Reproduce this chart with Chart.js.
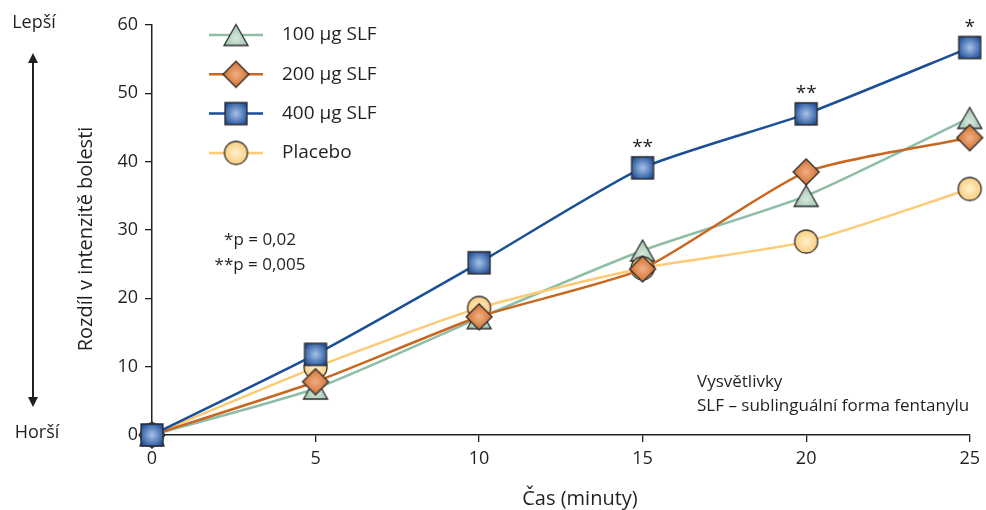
<!DOCTYPE html>
<html>
<head>
<meta charset="utf-8">
<script src="https://cdn.jsdelivr.net/npm/chart.js@4"></script>
<style>
  html, body { margin: 0; padding: 0; background: #fff; }
  #wrap { width: 986px; height: 510px; position: relative; }
</style>
</head>
<body>
<div id="wrap"><canvas id="chart" width="986" height="510"></canvas></div>
<script>
const minutes = ['0', '5', '10', '15', '20', '25'];
const slf100 = [0, 6.8, 17.1, 27.0, 35.0, 46.4];
const slf200 = [0, 7.8, 17.3, 24.3, 38.5, 43.5];
const slf400 = [0, 11.8, 25.2, 39.1, 47.0, 56.7];
const placebo = [0, 9.9, 18.6, 24.4, 28.3, 36.0];
const yTicks = [0, 10, 20, 30, 40, 50, 60];
const stars = ['', '', '', '**', '**', '*'];

const FONT = '"Open Sans", "Noto Sans", sans-serif';
const TXT = '#231f20';

// marker images with a soft radial shine
function makeMarker(shape, w, h, inner, outer) {
    const c = document.createElement('canvas');
    c.width = w + 4; c.height = h + 4;
    const ctx = c.getContext('2d');
    const cx = c.width / 2, cy = c.height / 2;
    ctx.beginPath();
    if (shape === 'square') {
        ctx.rect(2, 2, w, h);
    } else if (shape === 'diamond') {
        ctx.moveTo(cx, 2); ctx.lineTo(2 + w, cy); ctx.lineTo(cx, 2 + h); ctx.lineTo(2, cy); ctx.closePath();
    } else if (shape === 'triangle') {
        ctx.moveTo(cx, 2); ctx.lineTo(2 + w, 2 + h); ctx.lineTo(2, 2 + h); ctx.closePath();
    } else {
        ctx.arc(cx, cy, w / 2, 0, Math.PI * 2);
    }
    const gy = shape === 'triangle' ? cy + h * 0.15 : cy;
    const g = ctx.createRadialGradient(cx, gy, 0, cx, gy, w * 0.6);
    g.addColorStop(0, inner);
    g.addColorStop(1, outer);
    ctx.fillStyle = g;
    ctx.fill();
    ctx.lineWidth = 1.3;
    ctx.strokeStyle = '#2b2b2b';
    ctx.stroke();
    return c;
}

const mTri = makeMarker('triangle', 24, 21, '#d6e8dc', '#98bfa8');
const mDia = makeMarker('diamond', 26, 26, '#f2b085', '#c8621f');
const mSq = makeMarker('square', 22, 22, '#a9c4ea', '#1f4f98');
const mCirc = makeMarker('circle', 23, 23, '#fff3d2', '#fcc66e');

const series = [
    { label: '100 μg SLF', data: slf100, color: '#8ebea6', marker: mTri, order: 4 },
    { label: '200 μg SLF', data: slf200, color: '#c9661f', marker: mDia, order: 2 },
    { label: '400 μg SLF', data: slf400, color: '#1b4f97', marker: mSq, order: 1 },
    { label: 'Placebo', data: placebo, color: '#fdca75', marker: mCirc, order: 3 }
];

const extras = {
    id: 'extras',
    afterDraw(chart) {
        const ctx = chart.ctx;
        const xs = chart.scales.x, ys = chart.scales.y;
        ctx.save();
        ctx.fillStyle = TXT;
        ctx.strokeStyle = TXT;

        // legend
        ctx.font = '19px ' + FONT;
        ctx.textAlign = 'left';
        ctx.textBaseline = 'middle';
        series.forEach((s, i) => {
            const y = 35 + i * 39.3;
            ctx.strokeStyle = s.color;
            ctx.lineWidth = 2.5;
            ctx.beginPath(); ctx.moveTo(209, y); ctx.lineTo(263, y); ctx.stroke();
            ctx.drawImage(s.marker, 236 - s.marker.width / 2, y - s.marker.height / 2);
            ctx.fillText(s.label, 282, y);
        });

        // significance stars
        ctx.font = '19px ' + FONT;
        ctx.textAlign = 'center';
        stars.forEach((s, i) => {
            if (!s) return;
            ctx.fillText(s, xs.getPixelForValue(i), ys.getPixelForValue(slf400[i]) - 20);
        });

        // p-values and notes
        ctx.font = '17px ' + FONT;
        ctx.fillText('*p = 0,02', 260, 240);
        ctx.fillText('**p = 0,005', 260, 265);
        ctx.textAlign = 'left';
        ctx.fillText('Vysvětlivky', 697, 382);
        ctx.fillText('SLF – sublinguální forma fentanylu', 697, 406);

        // left side labels and arrow
        ctx.font = '18px ' + FONT;
        ctx.textAlign = 'center';
        ctx.fillText('Lepší', 34, 23);
        ctx.fillText('Horší', 37, 433);
        ctx.strokeStyle = TXT;
        ctx.lineWidth = 2;
        ctx.beginPath(); ctx.moveTo(33, 60); ctx.lineTo(33, 400); ctx.stroke();
        ctx.beginPath();
        ctx.moveTo(33, 53); ctx.lineTo(28, 63); ctx.lineTo(38, 63); ctx.closePath();
        ctx.moveTo(33, 407); ctx.lineTo(28, 397); ctx.lineTo(38, 397); ctx.closePath();
        ctx.fill();

        // axis titles
        ctx.font = '20px ' + FONT;
        ctx.save();
        ctx.translate(86, 239);
        ctx.rotate(-Math.PI / 2);
        ctx.fillText('Rozdíl v intenzitě bolesti', 0, 0);
        ctx.restore();
        ctx.fillText('Čas (minuty)', 580, 499);
        ctx.restore();
    }
};

new Chart(document.getElementById('chart'), {
    type: 'line',
    data: {
        labels: minutes,
        datasets: series.map(s => ({
            label: s.label,
            data: s.data,
            borderColor: s.color,
            borderWidth: 2.5,
            tension: 0.2,
            pointStyle: s.marker,
            pointRadius: 12,
            pointHoverRadius: 12,
            order: s.order,
            clip: false
        }))
    },
    options: {
        responsive: false,
        animation: false,
        events: [],
        layout: { padding: { top: 25, right: 15, left: 0, bottom: 0 } },
        plugins: { legend: { display: false }, tooltip: { enabled: false } },
        scales: {
            x: {
                type: 'category',
                offset: false,
                afterFit(scale) { scale.height = 75; },
                grid: { display: true, drawOnChartArea: false, drawTicks: true, tickLength: 7, color: TXT, lineWidth: 1.3 },
                border: { display: true, color: TXT, width: 1.5 },
                ticks: { color: TXT, font: { family: FONT, size: 18 }, padding: 6, maxRotation: 0 }
            },
            y: {
                min: 0,
                max: 60,
                afterFit(scale) { scale.width = 152; },
                afterBuildTicks(scale) { scale.ticks = yTicks.map(v => ({ value: v })); },
                grid: { display: true, drawOnChartArea: false, drawTicks: true, tickLength: 7, color: TXT, lineWidth: 1.3 },
                border: { display: true, color: TXT, width: 1.5 },
                ticks: { color: TXT, font: { family: FONT, size: 18 }, padding: 7 }
            }
        }
    },
    plugins: [extras]
});
</script>
</body>
</html>
